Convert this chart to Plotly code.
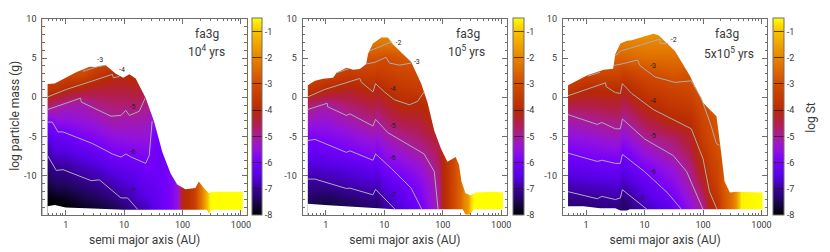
import numpy as np
import plotly.graph_objects as go

W, H = 830, 252
mass_rows = [-15, -13, -11, -9, -7, -5, -3, -1, 1, 3, 5, 7, 9]
x_ticks_range = [-0.4, 3.1]
y_range = [-15, 10]
y_ticks = [-10, -5, 0, 5, 10]
y_tick_text = ["-10", "-5", "0", "5", "10"]
cb_ticks = [-8, -7, -6, -5, -4, -3, -2, -1]
cb_text = ["-8", "-7", "-6", "-5", "-4", "-3", "-2", "-1"]

# ---- panel 1 : 10^4 yrs -------------------------------------------------
a1 = [0.47, 0.7, 1, 2, 3.2, 6.3, 10, 16, 25, 32, 45, 63, 80, 90, 100, 126, 160, 190, 225, 263, 295, 1100]
z1 = [
    [-8.3, -8.0, -7.6, -7.3, -6.95, -6.45, -5.95, -4.6, -3.65, -3.0, -2.7, -2.4, -2],
    [-8.2, -7.9, -7.4, -7.05, -6.6, -6.2, -5.6, -4.9, -3.8, -3.1, -2.8, -2.4, -2],
    [-8.2, -7.85, -7.4, -7.05, -6.6, -6.15, -5.6, -5.1, -4, -3.2, -2.9, -2.4, -2],
    [-8, -7.6, -7.2, -6.8, -6.35, -5.9, -5.45, -5.15, -4.3, -3.1, -2.8, -2.4, -2],
    [-7.9, -7.5, -7.1, -6.7, -6.25, -5.8, -5.35, -4.9, -4.4, -3.5, -3, -2.4, -2],
    [-7.7, -7.3, -6.85, -6.4, -5.95, -5.55, -5.1, -4.75, -4.4, -3.95, -2.9, -2.4, -2],
    [-7.5, -7.05, -6.65, -6.3, -5.9, -5.5, -5.15, -4.75, -4.4, -4, -3.5, -2.4, -2],
    [-7.2, -6.75, -6.5, -6.2, -5.85, -5.45, -5.15, -4.7, -4.3, -3.9, -3.5, -2.4, -2],
    [-6.95, -6.55, -6.25, -6.05, -5.75, -5.45, -5.2, -4.9, -4.5, -4, -3.5, -2.4, -2],
    [-6.5, -6.35, -6.2, -6.1, -6.05, -5.9, -5.5, -5.1, -4.5, -4, -3.5, -2.4, -2],
    [-6.2, -6.15, -6.1, -6.1, -6.1, -6.1, -6, -5.5, -4.5, -4, -3.5, -2.4, -2],
    [-5.85, -5.85, -5.85, -5.85, -5.85, -5.85, -5.85, -5.5, -4.5, -4, -3.5, -2.4, -2],
    [-5.5, -5.5, -5.5, -5.5, -5.5, -5.5, -5.5, -5.5, -4.5, -4, -3.5, -2.4, -2],
    [-4.7, -4.7, -4.7, -4.7, -4.7, -4.7, -4.7, -4.7, -4.5, -4, -3.5, -2.4, -2],
    [-4.05, -4.05, -4.05, -4.05, -4.05, -4.05, -4.05, -4.05, -4, -4, -3.5, -2.4, -2],
    [-3.85, -3.85, -3.85, -3.85, -3.85, -3.85, -3.85, -3.85, -3.85, -3.8, -3.5, -2.4, -2],
    [-3.4, -3.4, -3.4, -3.4, -3.4, -3.4, -3.4, -3.4, -3.4, -3.4, -3.4, -2.4, -2],
    [-2.5, -2.5, -2.5, -2.5, -2.5, -2.5, -2.5, -2.5, -2.5, -2.5, -2.5, -2.4, -2],
    [-1.8, -1.8, -1.8, -1.8, -1.8, -1.8, -1.8, -1.8, -1.8, -1.8, -1.8, -1.8, -1.8],
    [-1.0, -1.0, -1.0, -1.0, -1.0, -1.0, -1.0, -1.0, -1.0, -1.0, -1.0, -1.0, -1.0],
    [-0.5, -0.5, -0.5, -0.5, -0.5, -0.5, -0.5, -0.5, -0.5, -0.5, -0.5, -0.5, -0.5],
    [-0.5, -0.5, -0.5, -0.5, -0.5, -0.5, -0.5, -0.5, -0.5, -0.5, -0.5, -0.5, -0.5],
]
top1_a = [0.49, 0.65, 1.51, 2.57, 3.55, 4.8, 7.2, 9.7, 12.3, 15.8, 23.4, 32.4, 45.2, 62.5, 81, 112, 166, 190, 229, 282, 316, 1070]
top1_m = [1.7, 1.75, 3.2, 3.9, 3.85, 4.1, 3.0, 2.5, 2.95, 2.4, -0.1, -3, -7, -9.7, -11.1, -11.7, -11.55, -10.7, -11.5, -12.2, -12, -12]
bot1_a = [0.49, 0.65, 1, 2.9, 9.7, 263, 282, 309, 1070]
bot1_m = [-13.85, -13.7, -14, -14.15, -14.3, -14.3, -14.8, -14.3, -14.3]
lines1 = {
    "-3": ([1.97, 3.78, 4.8], [3.3, 3.97, 4.05]),
    "-4": ([0.49, 1.02, 2.92, 6.3, 6.55, 8.3], [0.06, 1.0, 2.1, 2.93, 2.5, 2.64]),
    "-5": ([0.49, 1.02, 1.8, 1.85, 2.92, 5.97, 8.83, 10.7, 12.3, 18.2, 22.9], [-1.56, -0.73, -0.1, -0.6, -1.27, -2.4, -2.3, -1.65, -2.3, -1.77, -0.1]),
    "-6": ([0.49, 0.59, 0.74, 0.9, 2.92, 6.3, 8.83, 10.7, 13.2, 23.4, 26.9, 30.2], [-3.15, -3.15, -4.4, -4.4, -5.9, -7.2, -7.6, -7.2, -7.6, -8.4, -7.4, -3.0]),
    "-7": ([0.49, 0.69, 0.9, 2.73, 3.78, 8.83, 11.5, 17], [-7.4, -9.3, -9.2, -10.6, -10.5, -12.8, -12.8, -14.25]),
}
labels1 = [("-3", 3.9, 4.7), ("-4", 9.2, 3.5), ("-5", 14, -1.3), ("-6", 14, -7), ("-7", 14, -12)]

# ---- panel 2 : 10^5 yrs -------------------------------------------------
a2 = [0.47, 1, 2.5, 6.9, 7.2, 10, 20, 40, 70, 85, 100, 120, 160, 200, 230, 270, 300, 340, 1100]
z2 = [
    [-7.7, -7.4, -7.1, -6.7, -6.3, -5.9, -5.35, -4.7, -3.7, -3, -2.7, -2.4, -2],
    [-7.8, -7.5, -7.05, -6.6, -6.2, -5.8, -5.45, -5.05, -4, -3.2, -2.8, -2.4, -2],
    [-7.6, -7.35, -6.85, -6.5, -6, -5.6, -5.15, -4.7, -4.25, -3.5, -3, -2.4, -2],
    [-7.5, -7.15, -6.7, -6.25, -5.75, -5.3, -4.85, -4.4, -3.95, -3.35, -2.9, -2.3, -1.8],
    [-7.6, -7.3, -6.85, -6.4, -5.95, -5.5, -5.05, -4.6, -4.2, -3.5, -2.9, -2.3, -1.8],
    [-7.2, -6.85, -6.45, -6, -5.6, -5.2, -4.75, -4.35, -3.9, -3.4, -3.05, -2.2, -1.8],
    [-6.7, -6.4, -6.15, -5.75, -5.35, -4.9, -4.45, -4, -3.6, -3.2, -2.8, -2.2, -1.8],
    [-6.2, -5.95, -5.75, -5.45, -5.07, -4.7, -4.4, -4, -3.5, -3.1, -2.7, -2.2, -1.8],
    [-5.4, -5.3, -5.2, -4.95, -4.7, -4.4, -4, -3.7, -3.4, -3.1, -2.7, -2.2, -1.8],
    [-5, -4.95, -4.85, -4.7, -4.5, -4.4, -4, -3.7, -3.4, -3.1, -2.7, -2.2, -1.8],
    [-4.2, -4.15, -4.1, -4.05, -4, -3.9, -3.8, -3.7, -3.4, -3.1, -2.7, -2.2, -1.8],
    [-3.7, -3.7, -3.7, -3.7, -3.7, -3.7, -3.7, -3.6, -3.4, -3.1, -2.7, -2.2, -1.8],
    [-3.0, -3.0, -3.0, -3.0, -3.0, -3.0, -3.0, -3.0, -3.0, -3.0, -2.7, -2.2, -1.8],
    [-2.5, -2.5, -2.5, -2.5, -2.5, -2.5, -2.5, -2.5, -2.5, -2.5, -2.5, -2.2, -1.8],
    [-2.0, -2.0, -2.0, -2.0, -2.0, -2.0, -2.0, -2.0, -2.0, -2.0, -2.0, -2.0, -1.8],
    [-1.7, -1.7, -1.7, -1.7, -1.7, -1.7, -1.7, -1.7, -1.7, -1.7, -1.7, -1.7, -1.7],
    [-0.9, -0.9, -0.9, -0.9, -0.9, -0.9, -0.9, -0.9, -0.9, -0.9, -0.9, -0.9, -0.9],
    [-0.5, -0.5, -0.5, -0.5, -0.5, -0.5, -0.5, -0.5, -0.5, -0.5, -0.5, -0.5, -0.5],
    [-0.5, -0.5, -0.5, -0.5, -0.5, -0.5, -0.5, -0.5, -0.5, -0.5, -0.5, -0.5, -0.5],
]
top2_a = [0.49, 0.65, 0.9, 1.33, 1.51, 2.24, 2.92, 3.8, 4.9, 5.25, 6.38, 8.9, 11.5, 14, 28.8, 42.7, 55, 71.6, 93.3, 120, 148, 166, 190, 209, 245, 302, 363, 759, 1070]
top2_m = [1.55, 2.1, 2.35, 2.5, 3.1, 3.75, 3.5, 3.6, 4.25, 5.5, 6.85, 7.6, 7.6, 6.75, 4.5, 1.75, -0.7, -4.25, -6.55, -8.2, -7.8, -7.6, -8.6, -10.7, -12.2, -12.5, -12.1, -12, -12.1]
bot2_a = [0.49, 0.95, 2.57, 6.38, 14.8, 219, 245, 295, 339, 1070]
bot2_m = [-13.55, -13.7, -13.9, -14.15, -14.25, -14.25, -14.9, -14.9, -14.25, -14.25]
lines2 = {
    "-2a": ([5.6, 7.8, 13.2], [5.9, 6.35, 7.05]),
    "-3a": ([1.51, 2.57], [3.1, 3.7]),
    "-3b": ([4.9, 6.84, 10.7, 12.3, 18.2, 28.8], [4.25, 4.45, 5.1, 4.35, 4.1, 4.35]),
    "-4": ([0.49, 0.95, 3.8, 4.07, 6.38, 7.08, 10, 14.8, 26.9, 37.2, 47.9], [0.06, 1.0, 2.4, 1.9, 0.7, 1.75, 0.7, -0.3, -0.95, -0.5, 0.7]),
    "-5": ([0.49, 1.05, 1.07, 2.24, 2.57, 6.38, 7.08, 11.5, 47.9, 71.6, 83.2], [-1.55, -0.75, -1.2, -2.3, -2.1, -3.65, -2.8, -4.5, -7.2, -9.45, -14.25]),
    "-6": ([0.49, 0.65, 2.24, 2.57, 6.38, 7.08, 13.2, 28.8, 43.7], [-5.5, -5.35, -7, -6.8, -8, -7.2, -9.05, -11.55, -14.25]),
    "-7": ([0.49, 0.65, 2.24, 2.57, 6.38, 7.08, 15.3], [-10.4, -10.4, -11.6, -11.55, -12.4, -11.7, -14.25]),
}
labels2 = [("-2", 17.4, 6.9), ("-3", 36, 4.5), ("-4", 14, 1), ("-5", 14, -3.7), ("-6", 14, -7.8), ("-7", 14, -12.5)]

# ---- panel 3 : 5x10^5 yrs -----------------------------------------------
a3 = [0.47, 1, 3.5, 4.2, 10, 30, 60, 100, 130, 170, 220, 300, 370, 410, 440, 1100]
z3 = [
    [-7.4, -7.2, -6.8, -6.35, -5.97, -5.55, -5.1, -4.5, -3.65, -3, -2.6, -2.2, -1.8],
    [-7.4, -7.15, -6.7, -6.25, -5.85, -5.45, -5, -4.5, -4, -3.2, -2.7, -2.2, -1.8],
    [-7.4, -7, -6.6, -6.15, -5.7, -5.25, -4.8, -4.35, -3.9, -3.2, -2.6, -2.1, -1.7],
    [-7.5, -7.3, -6.8, -6.4, -6.05, -5.55, -5.05, -4.6, -4.15, -3.4, -2.6, -2.1, -1.7],
    [-7, -6.65, -6.3, -5.9, -5.45, -4.95, -4.5, -4.0, -3.55, -3.05, -2.4, -2, -1.6],
    [-6.4, -6.05, -5.7, -5.4, -5.0, -4.65, -4, -3.6, -3.25, -2.8, -2.4, -2, -1.6],
    [-5.7, -5.4, -5.1, -4.85, -4.55, -4.25, -3.9, -3.5, -3.1, -2.9, -2.4, -2, -1.6],
    [-5, -4.8, -4.35, -4, -3.65, -3.4, -3.2, -3, -2.7, -2.4, -2.3, -2, -1.6],
    [-4.3, -4, -3.7, -3.45, -3.3, -3.1, -3, -2.8, -2.6, -2.4, -2.3, -2, -1.6],
    [-4, -3.7, -3.3, -3.2, -3, -2.9, -2.8, -2.7, -2.6, -2.4, -2.3, -2, -1.6],
    [-3, -2.95, -2.8, -2.8, -2.8, -2.8, -2.8, -2.7, -2.6, -2.4, -2.3, -2, -1.6],
    [-2.4, -2.4, -2.4, -2.4, -2.4, -2.4, -2.4, -2.4, -2.4, -2.4, -2.3, -2, -1.6],
    [-1.8, -1.8, -1.8, -1.8, -1.8, -1.8, -1.8, -1.8, -1.8, -1.8, -1.8, -1.8, -1.6],
    [-1.1, -1.1, -1.1, -1.1, -1.1, -1.1, -1.1, -1.1, -1.1, -1.1, -1.1, -1.1, -1.1],
    [-0.6, -0.6, -0.6, -0.6, -0.6, -0.6, -0.6, -0.6, -0.6, -0.6, -0.6, -0.6, -0.6],
    [-0.5, -0.5, -0.5, -0.5, -0.5, -0.5, -0.5, -0.5, -0.5, -0.5, -0.5, -0.5, -0.5],
]
top3_a = [0.49, 0.66, 1.05, 2, 2.9, 3.16, 3.85, 5, 6, 14.1, 17.4, 33.1, 58.9, 100, 138, 170, 204, 234, 288, 372, 1050]
top3_m = [1.55, 2.1, 2.8, 3.5, 3.65, 5.5, 6.85, 7.2, 7.25, 8.1, 7.9, 5.9, 2.8, -0.7, -1.75, -2.4, -7, -10.7, -12.1, -12, -12.1]
bot3_a = [0.49, 0.9, 1.74, 3.16, 3.85, 5.01, 5.6, 1050]
bot3_m = [-13.85, -13.85, -14.1, -14.1, -14.4, -14.4, -14.25, -14.25]
lines3 = {
    "-2": ([3.16, 3.94, 18.2, 18.6, 25.1], [5.3, 5.9, 7.4, 6.85, 6.85]),
    "-3a": ([1.07, 1.74], [2.7, 3.2]),
    "-3b": ([2.95, 4.07, 7.6, 8.3, 15.1, 33.1, 63, 93.3, 138, 170, 191], [4.05, 4.25, 4.75, 4.05, 2.6, 1.9, 2.1, -0.1, -3.65, -5.9, -6.1]),
    "-4": ([0.49, 0.98, 2.14, 2.21, 3.16, 3.85, 4.17, 6, 14.1, 63, 100, 129, 174], [0.2, 1, 1.85, 1.35, 0.6, 0.5, 1.75, 0.5, -1.55, -4, -7.8, -12, -14.25]),
    "-5": ([0.49, 1.55, 1.86, 3.16, 3.85, 4.17, 10, 30.9, 52.5, 100], [-2.2, -3.45, -3.2, -4, -4, -2.75, -5.3, -7.4, -9.45, -14.25]),
    "-6": ([0.49, 1.55, 1.86, 3.16, 3.85, 4.17, 10, 25.1, 42.7], [-7.1, -8.15, -8, -8.4, -8.4, -7.25, -9.45, -12.2, -14.25]),
    "-7": ([0.49, 1.55, 1.86, 3.16, 3.85, 4.17, 11], [-12, -12.9, -12.6, -13, -12.8, -11.75, -14.25]),
}
labels3 = [("-2", 31.6, 7.3), ("-3", 14, 4), ("-4", 14, -0.5), ("-5", 14, -5), ("-6", 14, -9.5), ("-7", 8.9, -13)]

panel_caption = ["10<sup>4</sup> yrs", "10<sup>5</sup> yrs", "5x10<sup>5</sup> yrs"]
panel_name = "fa3g"
x_title = "semi major axis (AU)"
y_title = "log particle mass (g)"
cb_title = "log St"

# ---- styling -------------------------------------------------------------
FONT = "Roboto"
INK = "#3a3a3a"
FRAME = "#6e6e6e"
CONTOUR = "#a9adb5"
SCALE = [
    [(-8 + 8) / 7.5, "#000000"],
    [(-7.5 + 8) / 7.5, "#1c0650"],
    [(-7 + 8) / 7.5, "#3c00a0"],
    [(-6.5 + 8) / 7.5, "#5800e6"],
    [(-6 + 8) / 7.5, "#7400fc"],
    [(-5.5 + 8) / 7.5, "#9412e0"],
    [(-5 + 8) / 7.5, "#a81c9c"],
    [(-4.5 + 8) / 7.5, "#b41e48"],
    [(-4 + 8) / 7.5, "#b82a04"],
    [(-3 + 8) / 7.5, "#d24c00"],
    [(-2 + 8) / 7.5, "#e88400"],
    [(-1 + 8) / 7.5, "#f8c400"],
    [(-0.5 + 8) / 7.5, "#ffff00"],
]
plot_px = [(42.5, 248.0), (304.0, 509.5), (565.5, 771.0)]
bar_px = [(253.5, 263.5), (515.0, 525.5), (776.5, 787.0)]
top_px, bot_px = 14.0, 214.5

fig = go.Figure()
panels = [
    (a1, z1, top1_a, top1_m, bot1_a, bot1_m, lines1, labels1),
    (a2, z2, top2_a, top2_m, bot2_a, bot2_m, lines2, labels2),
    (a3, z3, top3_a, top3_m, bot3_a, bot3_m, lines3, labels3),
]
annotations = []
xl, xr = 10 ** x_ticks_range[0], 10 ** x_ticks_range[1]

for i, (a, z, ta, tm, ba, bm, lines, labels) in enumerate(panels):
    xn = "x" if i == 0 else f"x{i+1}"
    yn = "y" if i == 0 else f"y{i+1}"
    bar = bar_px[i]
    fig.add_trace(go.Heatmap(
        x=a, y=mass_rows, z=np.array(z).T.tolist(), xaxis=xn, yaxis=yn,
        zsmooth="best", zmin=-8, zmax=-0.5, colorscale=SCALE, hoverinfo="skip",
        colorbar=dict(
            x=bar[0] / W, xanchor="left", xpad=0, ypad=0,
            y=1 - bot_px / H, yanchor="bottom", len=(bot_px - top_px) / H, lenmode="fraction",
            thickness=bar[1] - bar[0], thicknessmode="pixels",
            tickmode="array", tickvals=cb_ticks, ticktext=cb_text,
            ticks="inside", ticklen=10, tickwidth=1, tickcolor="rgba(40,20,10,0.75)",
            outlinecolor=FRAME, outlinewidth=1, borderwidth=0,
            tickfont=dict(family=FONT, size=9, color=INK),
        ),
    ))
    # white masks: everything outside the data outline
    mx = [xl, xr, xr, ta[-1]] + ta[::-1] + [ta[0], xl]
    my = [10, 10, -15, -15] + tm[::-1] + [-15, -15]
    fig.add_trace(go.Scatter(x=mx, y=my, xaxis=xn, yaxis=yn, mode="lines", fill="toself",
                             fillcolor="white", line=dict(width=0), hoverinfo="skip", showlegend=False))
    bx = [ba[0]] + ba + [ba[-1], ba[0]]
    by = [-15] + bm + [-15, -15]
    fig.add_trace(go.Scatter(x=bx, y=by, xaxis=xn, yaxis=yn, mode="lines", fill="toself",
                             fillcolor="white", line=dict(width=0), hoverinfo="skip", showlegend=False))
    for key, (lx, ly) in lines.items():
        fig.add_trace(go.Scatter(x=lx, y=ly, xaxis=xn, yaxis=yn, mode="lines",
                                 line=dict(color=CONTOUR, width=1), hoverinfo="skip", showlegend=False))
    fig.add_trace(go.Scatter(
        x=[l[1] for l in labels], y=[l[2] for l in labels], text=[l[0] for l in labels],
        xaxis=xn, yaxis=yn, mode="text", textposition="middle center",
        textfont=dict(family=FONT, size=7, color="#222222"), hoverinfo="skip", showlegend=False))

    px = plot_px[i]
    dom = [px[0] / W, px[1] / W]
    ydom = [1 - bot_px / H, 1 - top_px / H]
    minor_x = dict(ticks="inside", ticklen=2.5, tickcolor=FRAME, tickwidth=1, dtick="D1", showgrid=False)
    minor_y = dict(ticks="inside", ticklen=2.5, tickcolor=FRAME, tickwidth=1, dtick=1, tick0=0, showgrid=False)
    xkey = "xaxis" if i == 0 else f"xaxis{i+1}"
    ykey = "yaxis" if i == 0 else f"yaxis{i+1}"
    fig.update_layout(**{
        xkey: dict(domain=dom, type="log", range=x_ticks_range, anchor=yn, dtick=1,
                   exponentformat="none", ticks="inside", ticklen=5, tickcolor=FRAME, tickwidth=1,
                   showline=True, linecolor=FRAME, linewidth=1, mirror="allticks", showgrid=False,
                   zeroline=False, minor=minor_x, ticklabelstandoff=1,
                   tickfont=dict(family=FONT, size=9, color=INK),
                   title=dict(text=x_title, font=dict(family=FONT, size=12, color=INK), standoff=6)),
        ykey: dict(domain=ydom, range=y_range, anchor=xn, tickmode="array", tickvals=y_ticks,
                   ticktext=y_tick_text, ticks="inside", ticklen=5, tickcolor=FRAME, tickwidth=1,
                   showline=True, linecolor=FRAME, linewidth=1, mirror="allticks", showgrid=False,
                   zeroline=False, minor=minor_y, ticklabelstandoff=3,
                   tickfont=dict(family=FONT, size=9, color=INK)),
    })

# captions in pixel space
cap_px = [(208, 30, 208, 47), (470, 30, 469, 47), (731, 30, 733, 49)]
for (x1, y1, x2, y2), cap in zip(cap_px, panel_caption):
    annotations.append(dict(text=panel_name, x=x1 / W, y=1 - y1 / H, xref="paper", yref="paper",
                            xanchor="center", yanchor="middle",
                            showarrow=False, font=dict(family=FONT, size=12, color=INK)))
    annotations.append(dict(text=cap, x=x2 / W, y=1 - y2 / H, xref="paper", yref="paper",
                            xanchor="center", yanchor="middle",
                            showarrow=False, font=dict(family=FONT, size=12, color=INK)))
annotations.append(dict(text=y_title, x=15 / W, y=1 - 113 / H, xref="paper", yref="paper", textangle=-90,
                        xanchor="center", yanchor="middle",
                        showarrow=False, font=dict(family=FONT, size=12, color=INK)))
annotations.append(dict(text=cb_title, x=815 / W, y=1 - 115 / H, xref="paper", yref="paper", textangle=-90,
                        xanchor="center", yanchor="middle",
                        showarrow=False, font=dict(family=FONT, size=12, color=INK)))

fig.update_layout(width=W, height=H, margin=dict(l=0, r=0, t=0, b=0), autosize=False,
                  paper_bgcolor="white", plot_bgcolor="white", showlegend=False,
                  annotations=annotations)
fig.write_html("out.html", config=dict(displayModeBar=False),
               post_script="document.body.style.margin='0';document.body.style.overflow='hidden';")
